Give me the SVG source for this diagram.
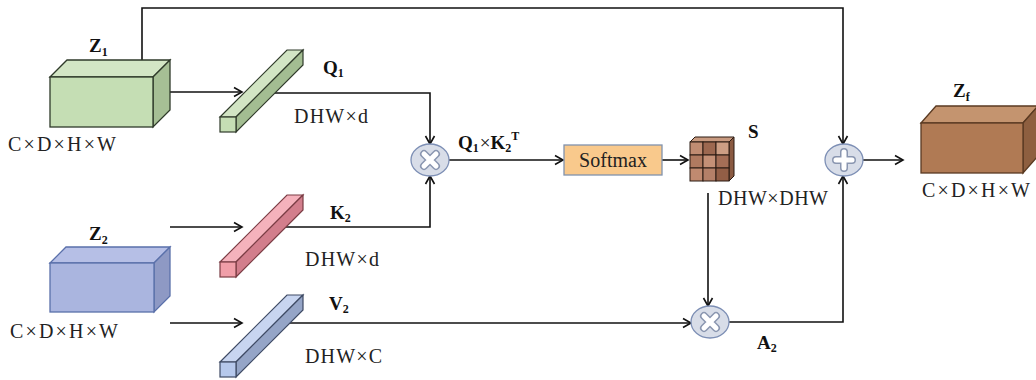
<svg xmlns="http://www.w3.org/2000/svg" width="1036" height="380" viewBox="0 0 1036 380">
<defs>
<marker id="arr" markerUnits="userSpaceOnUse" markerWidth="12" markerHeight="12" refX="10" refY="6" orient="auto">
<path d="M2,1.5 L10,6 L2,10.5" fill="none" stroke="#111" stroke-width="1.6"/>
</marker>
<style>
text{font-family:'Liberation Serif','Times New Roman',serif}
.t{font-size:20px;font-weight:normal;fill:#222}
.b{font-weight:bold;font-size:19px;fill:#111}
.c{fill:none;stroke:#111;stroke-width:1.6}
.op{fill:#d8dde8;stroke:#7d8fb5;stroke-width:1.3}
.sym1{fill:none;stroke:#8a96b0;stroke-width:8;stroke-linecap:round}
.sym2{fill:none;stroke:#fff;stroke-width:5;stroke-linecap:round}
</style>
</defs>
<rect width="1036" height="380" fill="#fff"/>

<g id="connectors">
<path class="c" d="M142,60 V8 H843 V144" marker-end="url(#arr)"/>
<path class="c" d="M170,92 H242" marker-end="url(#arr)"/>
<path class="c" d="M270,93 H430 V144" marker-end="url(#arr)"/>
<path class="c" d="M275,227 H430 V176" marker-end="url(#arr)"/>
<path class="c" d="M170,227 H242" marker-end="url(#arr)"/>
<path class="c" d="M170,323 H242" marker-end="url(#arr)"/>
<path class="c" d="M280,323 H691" marker-end="url(#arr)"/>
<path class="c" d="M449,160 H563" marker-end="url(#arr)"/>
<path class="c" d="M662,160 H688" marker-end="url(#arr)"/>
<path class="c" d="M708,193 V306" marker-end="url(#arr)"/>
<path class="c" d="M729,322 H843 V176" marker-end="url(#arr)"/>
<path class="c" d="M863,160 H903" marker-end="url(#arr)"/>
</g>

<g id="Z1">
<polygon points="50,77 67,60 170,60 153,77" fill="#d3e6c5" stroke="#2f3a2a" stroke-width="1.3"/>
<polygon points="153,77 170,60 170,110 153,127" fill="#a6bf95" stroke="#2f3a2a" stroke-width="1.3"/>
<rect x="50" y="77" width="103" height="50" fill="#c5deb4" stroke="#2f3a2a" stroke-width="1.3"/>
<text class="b" x="89" y="52">Z<tspan font-size="12" dy="4">1</tspan></text>
<text class="t" x="8" y="151" textLength="108" lengthAdjust="spacing">C×D×H×W</text>
</g>

<g id="Z2">
<polygon points="50,263 66,247 170,247 154,263" fill="#b6bfe6" stroke="#5a70aa" stroke-width="1.3"/>
<polygon points="154,263 170,247 170,296 154,312" fill="#8e99c4" stroke="#5a70aa" stroke-width="1.3"/>
<rect x="50" y="263" width="104" height="49" fill="#aab5df" stroke="#5a70aa" stroke-width="1.3"/>
<text class="b" x="89" y="240">Z<tspan font-size="12" dy="4">2</tspan></text>
<text class="t" x="10" y="338" textLength="108" lengthAdjust="spacing">C×D×H×W</text>
</g>

<g id="Zf">
<polygon points="921,123 936,106 1038,106 1023,123" fill="#c4946f" stroke="#5a3a22" stroke-width="1.3"/>
<polygon points="1023,123 1038,106 1038,156 1023,173" fill="#8e5f40" stroke="#5a3a22" stroke-width="1.3"/>
<rect x="921" y="123" width="102" height="50" fill="#b07a54" stroke="#5a3a22" stroke-width="1.3"/>
<text class="b" x="953" y="97">Z<tspan font-size="12" dy="4">f</tspan></text>
<text class="t" x="922" y="197" textLength="108" lengthAdjust="spacing">C×D×H×W</text>
</g>

<g id="Q1">
<polygon points="220,117 287,50 303,50 236,117" fill="#d2e5c4" stroke="#2f3a2a" stroke-width="1.2"/>
<polygon points="236,117 303,50 303,65 236,132" fill="#a3bd92" stroke="#2f3a2a" stroke-width="1.2"/>
<rect x="220" y="117" width="16" height="15" fill="#c5deb4" stroke="#2f3a2a" stroke-width="1.2"/>
<text class="b" x="323" y="74">Q<tspan font-size="12" dy="3">1</tspan></text>
<text class="t" x="294" y="123" textLength="74" lengthAdjust="spacing">DHW×d</text>
</g>

<g id="K2">
<polygon points="220,262 287,195 303,195 236,262" fill="#f5b2bc" stroke="#7a3c44" stroke-width="1.2"/>
<polygon points="236,262 303,195 303,210 236,277" fill="#d27e8c" stroke="#7a3c44" stroke-width="1.2"/>
<rect x="220" y="262" width="16" height="15" fill="#f09ea8" stroke="#7a3c44" stroke-width="1.2"/>
<text class="b" x="330" y="219">K<tspan font-size="12" dy="3">2</tspan></text>
<text class="t" x="305" y="266" textLength="74" lengthAdjust="spacing">DHW×d</text>
</g>

<g id="V2">
<polygon points="220,362 287,295 303,295 236,362" fill="#c8d5f0" stroke="#3e4a64" stroke-width="1.2"/>
<polygon points="236,362 303,295 303,310 236,377" fill="#95a5c7" stroke="#3e4a64" stroke-width="1.2"/>
<rect x="220" y="362" width="16" height="15" fill="#b6c8ec" stroke="#3e4a64" stroke-width="1.2"/>
<text class="b" x="329" y="310">V<tspan font-size="12" dy="3">2</tspan></text>
<text class="t" x="305" y="363" textLength="77" lengthAdjust="spacing">DHW×C</text>
</g>

<g id="mul1">
<ellipse class="op" cx="430" cy="160" rx="19" ry="16"/>
<path class="sym1" d="M424,154 L436,166 M436,154 L424,166"/>
<path class="sym2" d="M424,154 L436,166 M436,154 L424,166"/>
<text class="b" x="458" y="149">Q<tspan font-size="12" dy="3">1</tspan><tspan dy="-3" font-weight="normal" dx="1">×</tspan><tspan>K</tspan><tspan font-size="12" dy="3">2</tspan><tspan font-size="12" dy="-12">T</tspan></text>
</g>

<g id="softmax">
<rect x="564" y="145" width="98" height="30" fill="#f9c98c" stroke="#8092ad" stroke-width="1.3"/>
<text class="t" x="613" y="167" text-anchor="middle">Softmax</text>
</g>

<g id="S">
<polygon points="690,142 695,137 734,137 729,142" fill="#c89a80" stroke="#2a1a12" stroke-width="1"/>
<polygon points="729,142 734,137 734,176 729,181" fill="#8a5a42" stroke="#2a1a12" stroke-width="1"/>
<rect x="690" y="142" width="13" height="13" fill="#c08c72" stroke="#2a1a12" stroke-width="1"/>
<rect x="703" y="142" width="13" height="13" fill="#9c6850" stroke="#2a1a12" stroke-width="1"/>
<rect x="716" y="142" width="13" height="13" fill="#cc9e84" stroke="#2a1a12" stroke-width="1"/>
<rect x="690" y="155" width="13" height="13" fill="#b07a60" stroke="#2a1a12" stroke-width="1"/>
<rect x="703" y="155" width="13" height="13" fill="#c49076" stroke="#2a1a12" stroke-width="1"/>
<rect x="716" y="155" width="13" height="13" fill="#a46e56" stroke="#2a1a12" stroke-width="1"/>
<rect x="690" y="168" width="13" height="13" fill="#c08a70" stroke="#2a1a12" stroke-width="1"/>
<rect x="703" y="168" width="13" height="13" fill="#b48068" stroke="#2a1a12" stroke-width="1"/>
<rect x="716" y="168" width="13" height="13" fill="#925e46" stroke="#2a1a12" stroke-width="1"/>
<text class="b" x="748" y="138">S</text>
<text class="t" x="718" y="205" textLength="110" lengthAdjust="spacing">DHW×DHW</text>
</g>

<g id="mul2">
<ellipse class="op" cx="710" cy="322" rx="19" ry="16"/>
<path class="sym1" d="M704,316 L716,328 M716,316 L704,328"/>
<path class="sym2" d="M704,316 L716,328 M716,316 L704,328"/>
<text class="b" x="757" y="349">A<tspan font-size="12" dy="3">2</tspan></text>
</g>

<g id="add">
<ellipse class="op" cx="844" cy="160" rx="19" ry="16"/>
<path class="sym1" d="M844,152 V168 M836,160 H852"/>
<path class="sym2" d="M844,152 V168 M836,160 H852"/>
</g>
</svg>
